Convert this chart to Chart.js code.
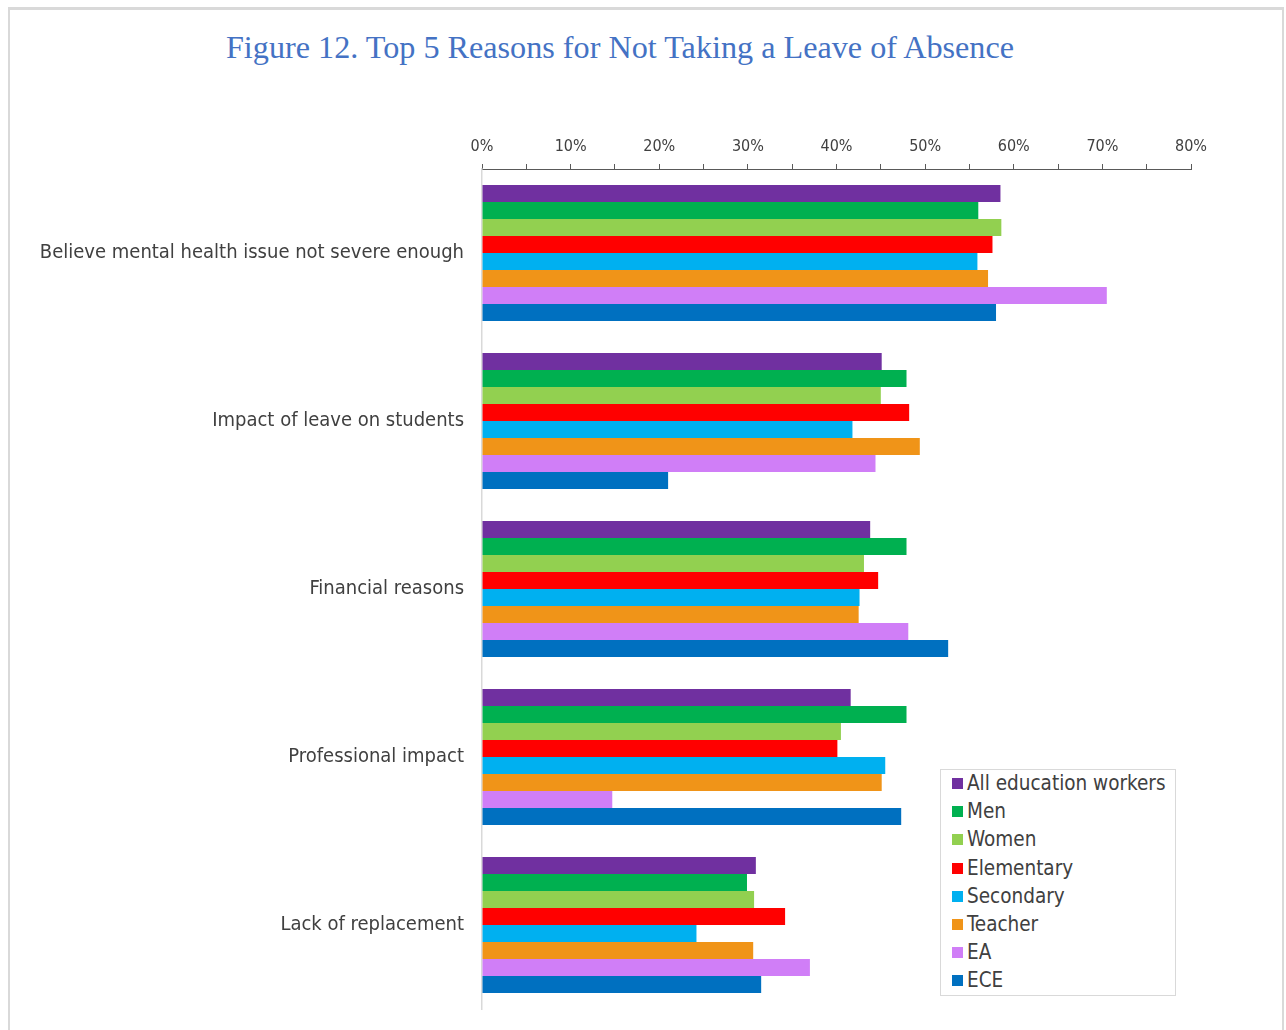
<!DOCTYPE html>
<html>
<head>
<meta charset="utf-8">
<script src="https://cdn.jsdelivr.net/npm/chart.js@4/dist/chart.umd.min.js"></script>
<style>
  html, body { margin: 0; padding: 0; background: #fff; }
  body { width: 1286px; height: 1030px; position: relative; overflow: hidden; }
  #frame { position: absolute; left: 8px; top: 7px; width: 1276px; height: 1040px; border-top: 3px solid #d9d9d9; border-left: 2px solid #d9d9d9; border-right: 2px solid #d9d9d9; box-sizing: border-box; }
  #title { position: absolute; left: 0; top: 27px; width: 1240px; text-align: center; font-family: "Liberation Serif", serif; font-size: 32.2px; color: #4472C4; line-height: 40px; }
  #wrap { position: absolute; left: 0; top: 0; width: 1286px; height: 1030px; }
  #legend { position: absolute; left: 940px; top: 769px; width: 236px; height: 227px; border: 1px solid #d9d9d9; background: #fff; box-sizing: border-box; padding-top: 0px; }
  .li { position: relative; height: 28.2px; font-family: "DejaVu Sans Condensed", "DejaVu Sans", sans-serif; font-size: 20.5px; color: #404040; }
  .li span.sw { position: absolute; left: 11px; top: 8px; width: 11px; height: 11px; }
  .li span.tx { position: absolute; left: 26px; top: 0px; line-height: 27px; white-space: nowrap; }
</style>
</head>
<body>
<div id="frame"></div>
<div id="title">Figure 12. Top 5 Reasons for Not Taking a Leave of Absence</div>
<div id="wrap"><canvas id="c" width="1286" height="1030"></canvas></div>
<div id="legend"></div>
<script>
const categories = [
  "Believe mental health issue not severe enough",
  "Impact of leave on students",
  "Financial reasons",
  "Professional impact",
  "Lack of replacement"
];
const seriesNames = ["All education workers", "Men", "Women", "Elementary", "Secondary", "Teacher", "EA", "ECE"];
const seriesColors = ["#7030A0", "#00B050", "#92D050", "#FF0000", "#00B0F0", "#F09418", "#D07EF7", "#0070C0"];

const allWorkers = [58.5, 45.1, 43.8, 41.6, 30.9];
const men        = [56.0, 47.9, 47.9, 47.9, 29.9];
const women      = [58.6, 45.0, 43.1, 40.5, 30.7];
const elementary = [57.6, 48.2, 44.7, 40.1, 34.2];
const secondary  = [55.9, 41.8, 42.6, 45.5, 24.2];
const teacher    = [57.1, 49.4, 42.5, 45.1, 30.6];
const ea         = [70.5, 44.4, 48.1, 14.7, 37.0];
const ece        = [58.0, 21.0, 52.6, 47.3, 31.5];
const seriesValues = [allWorkers, men, women, elementary, secondary, teacher, ea, ece];

const xTickMax = 80;
const xTickStep = 5;
const xLabelStep = 10;

const datasets = seriesNames.map((name, i) => ({
  label: name,
  data: seriesValues[i],
  backgroundColor: seriesColors[i],
  borderWidth: 0,
  categoryPercentage: 0.81,
  barPercentage: 1.0
}));

const FONT = '"DejaVu Sans Condensed", "DejaVu Sans", sans-serif';

new Chart(document.getElementById('c'), {
  type: 'bar',
  data: { labels: categories, datasets },
  options: {
    indexAxis: 'y',
    responsive: false,
    animation: false,
    layout: { padding: { left: 10, right: 95, top: 109, bottom: 21 } },
    plugins: { legend: { display: false }, tooltip: { enabled: false }, title: { display: false } },
    scales: {
      x: {
        position: 'top',
        min: 0,
        max: xTickMax,
        afterFit: (s) => { s.height = 60; },
        ticks: {
          stepSize: xTickStep,
          autoSkip: false,
          maxRotation: 0,
          padding: 8,
          color: '#404040',
          font: { family: FONT, size: 16 },
          callback: (v) => (v % xLabelStep === 0 ? v + '%' : '')
        },
        grid: { display: true, drawOnChartArea: false, drawTicks: true, tickLength: 5, color: '#595959', lineWidth: 1 },
        border: { display: true, color: '#595959', width: 1 }
      },
      y: {
        afterFit: (s) => { s.width = 472; s.paddingTop = 0; s.paddingBottom = 0; },
        ticks: {
          padding: 18,
          color: '#404040',
          font: { family: FONT, size: 20 }
        },
        grid: { display: false, drawTicks: false },
        border: { display: true, color: '#d9d9d9', width: 1.5 }
      }
    }
  }
});

const legend = document.getElementById('legend');
seriesNames.forEach((name, i) => {
  const d = document.createElement('div');
  d.className = 'li';
  d.innerHTML = '<span class="sw" style="background:' + seriesColors[i] + '"></span><span class="tx"></span>';
  d.querySelector('.tx').textContent = name;
  legend.appendChild(d);
});
</script>
</body>
</html>
